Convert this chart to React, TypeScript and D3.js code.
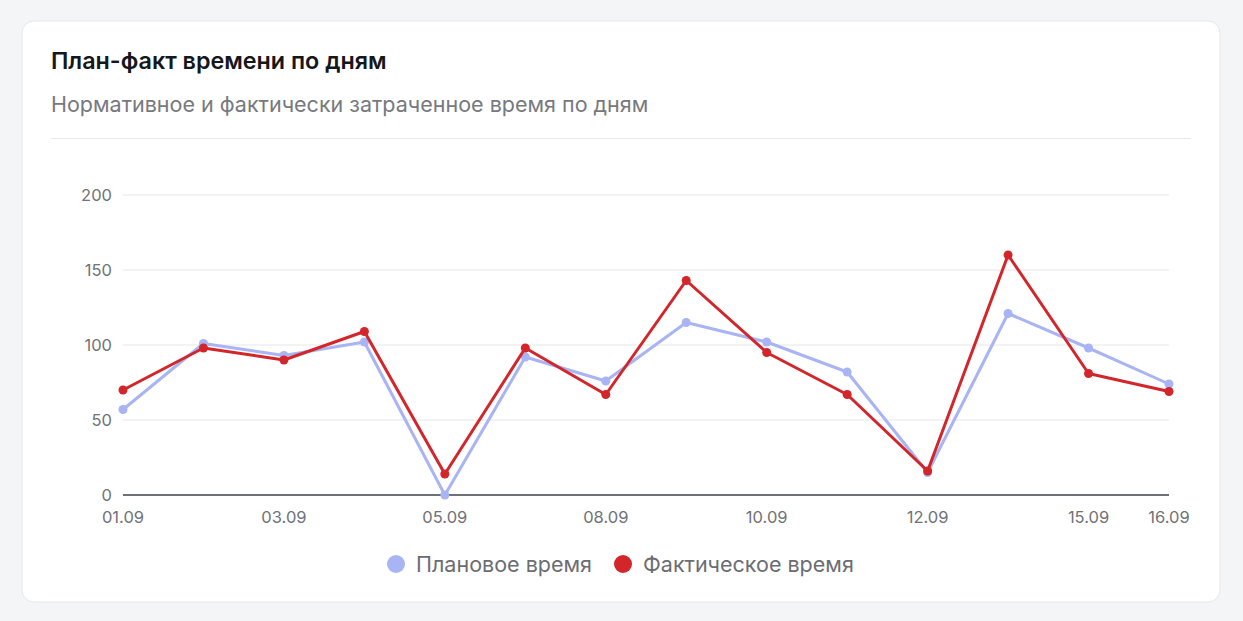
import { useEffect, useRef } from "react";
import * as d3 from "d3";

const days = ["01.09", "02.09", "03.09", "04.09", "05.09", "06.09", "08.09", "09.09", "10.09", "11.09", "12.09", "13.09", "15.09", "16.09"];
const planned = [57, 101, 93, 102, 0, 92, 76, 115, 102, 82, 15, 121, 98, 74];
const actual = [70, 98, 90, 109, 14, 98, 67, 143, 95, 67, 16, 160, 81, 69];
const yTicks = [0, 50, 100, 150, 200];
const series = [
  { name: "Плановое время", values: planned, color: "#a8b4f4" },
  { name: "Фактическое время", values: actual, color: "#d3262b" },
];

const W = 1243;
const H = 621;
const FONT = "Inter, 'Noto Sans', sans-serif";

export default function App() {
  const ref = useRef<SVGSVGElement>(null);
  useEffect(() => {
    if (!ref.current) return;
    const svg = d3.select(ref.current);
    svg.selectAll("*").remove();

    svg.append("rect").attr("width", W).attr("height", H).attr("fill", "#f4f5f7");
    svg.append("rect")
      .attr("x", 22).attr("y", 21).attr("width", 1198).attr("height", 581).attr("rx", 12)
      .attr("fill", "#fff").attr("stroke", "#e6e7ea");

    svg.append("text").attr("x", 51).attr("y", 69).text("План-факт времени по дням")
      .attr("font-family", FONT).attr("font-size", 23.3).attr("font-weight", 600).attr("fill", "#15171a");
    svg.append("text").attr("x", 51).attr("y", 112).text("Нормативное и фактически затраченное время по дням")
      .attr("font-family", FONT).attr("font-size", 21.5).attr("fill", "#77797e");
    svg.append("line").attr("x1", 51).attr("x2", 1191).attr("y1", 138.5).attr("y2", 138.5).attr("stroke", "#e8e9ec");

    const x = d3.scalePoint<string>().domain(days).range([123, 1169]);
    const y = d3.scaleLinear().domain([0, 200]).range([495, 195]);

    // grid
    svg.append("g")
      .selectAll("line")
      .data(yTicks.filter((t) => t > 0))
      .join("line")
      .attr("x1", 123).attr("x2", 1169)
      .attr("y1", (d) => y(d)).attr("y2", (d) => y(d))
      .attr("stroke", "#e8e8ea").attr("stroke-width", 1.2);

    svg.append("g")
      .selectAll("text")
      .data(yTicks)
      .join("text")
      .attr("x", 112).attr("y", (d) => y(d) + 6)
      .attr("text-anchor", "end")
      .attr("font-family", FONT).attr("font-size", 16.5).attr("fill", "#707278")
      .text((d) => d);

    svg.append("line").attr("x1", 123).attr("x2", 1169).attr("y1", y(0)).attr("y2", y(0))
      .attr("stroke", "#6e717a").attr("stroke-width", 2);

    svg.append("g")
      .selectAll("text")
      .data(days.filter((_, i) => i % 2 === 0 || i === days.length - 1))
      .join("text")
      .attr("x", (d) => x(d)!).attr("y", 523)
      .attr("text-anchor", "middle")
      .attr("font-family", FONT).attr("font-size", 16.5).attr("fill", "#707278")
      .text((d) => d);

    const line = d3.line<number>().x((_, i) => x(days[i])!).y((d) => y(d));
    series.forEach((s) => {
      svg.append("path").datum(s.values)
        .attr("fill", "none").attr("stroke", s.color).attr("stroke-width", 3)
        .attr("stroke-linejoin", "round")
        .attr("d", line);
      svg.append("g").selectAll("circle").data(s.values).join("circle")
        .attr("cx", (_, i) => x(days[i])!).attr("cy", (d) => y(d)).attr("r", 4.5)
        .attr("fill", s.color);
    });

    // legend
    const legendX = [396, 623];
    series.forEach((s, i) => {
      svg.append("circle").attr("cx", legendX[i]).attr("cy", 564).attr("r", 9).attr("fill", s.color);
      svg.append("text").attr("x", legendX[i] + 20).attr("y", 572)
        .attr("font-family", FONT).attr("font-size", 21.5).attr("fill", "#6b6d72")
        .text(s.name);
    });
  }, []);
  return <svg ref={ref} width={W} height={H} style={{ position: "absolute", left: 0, top: 0 }} />;
}
